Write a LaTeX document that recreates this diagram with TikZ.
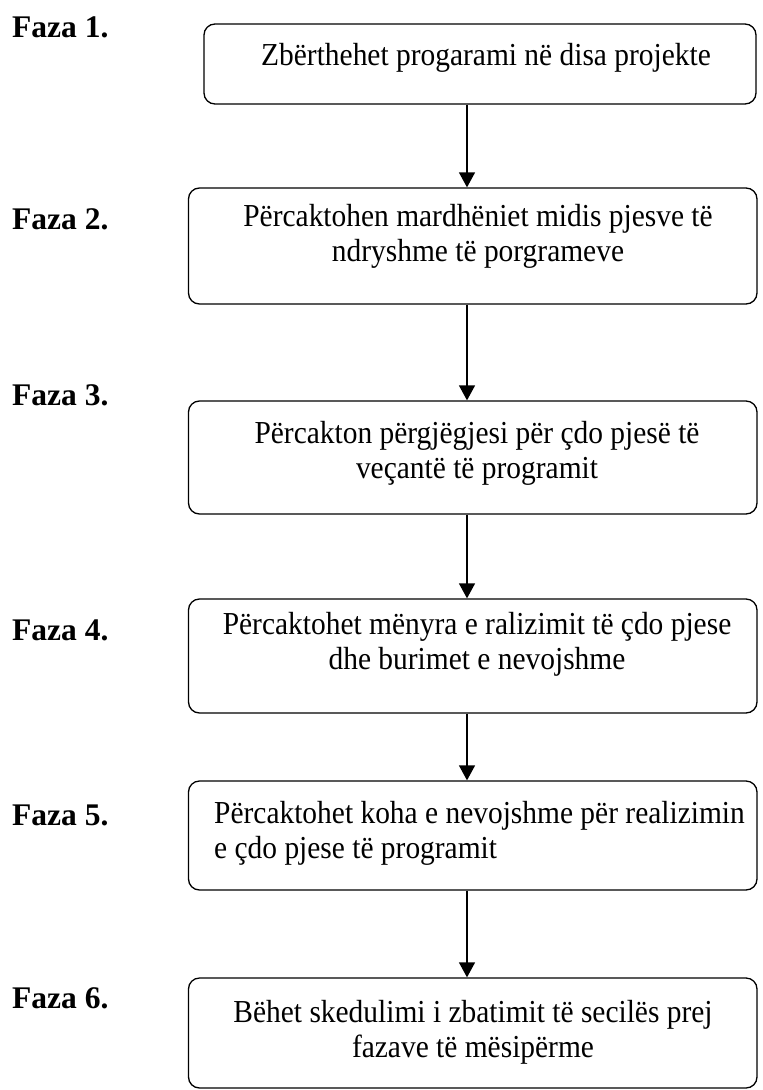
\documentclass[tikz,border=0pt]{standalone}
\usepackage{fontspec}
\setmainfont{Liberation Serif}
\newfontfamily\boxfont{Liberation Serif}[FakeStretch=0.92]
\usetikzlibrary{arrows.meta}
\begin{document}
\begin{tikzpicture}[x=1pt,y=-1pt,
  stage/.style={draw=black, line width=1.3pt, rounded corners=11pt, inner sep=0pt},
  boxtext/.style={inner sep=0pt, anchor=north, align=center, font=\boxfont\fontsize{32}{35}\selectfont},
  phase/.style={inner sep=0pt, anchor=base west, font=\fontsize{31.5}{34}\selectfont\bfseries},
  flow/.style={line width=1.3pt, -{Triangle[width=16pt,length=15pt]}}]
\useasboundingbox[fill=white] (0,0) rectangle (763,1090);

% phase frames
\node[stage, minimum width=552pt,   minimum height=80pt]  (b1) at (480,64)      {};
\node[stage, minimum width=568.5pt, minimum height=116pt] (b2) at (472.75,246)  {};
\node[stage, minimum width=568.5pt, minimum height=113pt] (b3) at (472.75,457.5){};
\node[stage, minimum width=568.5pt, minimum height=114pt] (b4) at (472.75,656)  {};
\node[stage, minimum width=568.5pt, minimum height=109pt] (b5) at (472.75,835.5){};
\node[stage, minimum width=568.5pt, minimum height=110pt] (b6) at (472.75,1033) {};

% texts inside the frames
\node[boxtext] (t1) at (486,43)  {Zbërthehet progarami në disa projekte};
\node[boxtext] (t2) at (478,204) {Përcaktohen mardhëniet midis pjesve të\\ndryshme të porgrameve};
\node[boxtext] (t3) at (477,421) {Përcakton përgjëgjesi për çdo pjesë të\\veçantë të programit};
\node[boxtext] (t4) at (477,612) {Përcaktohet mënyra e ralizimit të çdo pjese\\dhe burimet e nevojshme};
\node[boxtext, anchor=north west, align=left] (t5) at (214,801) {Përcaktohet koha e nevojshme për realizimin\\e çdo pjese të programit};
\node[boxtext] (t6) at (473,1000) {Bëhet skedulimi i zbatimit të secilës prej\\fazave të mësipërme};

% phase labels
\node[phase] (f1) at (12,37)   {Faza 1.};
\node[phase] (f2) at (12,229)  {Faza 2.};
\node[phase] (f3) at (12,405)  {Faza 3.};
\node[phase] (f4) at (12,640)  {Faza 4.};
\node[phase] (f5) at (12,825)  {Faza 5.};
\node[phase] (f6) at (12,1008) {Faza 6.};

% vertical flow between phases
\coordinate (spine) at (467,0);
\draw[flow] (spine |- b1.south) -- (spine |- b2.north);
\draw[flow] (spine |- b2.south) -- (spine |- b3.north);
\draw[flow] (spine |- b3.south) -- (spine |- b4.north);
\draw[flow] (spine |- b4.south) -- (spine |- b5.north);
\draw[flow] (spine |- b5.south) -- (spine |- b6.north);
\end{tikzpicture}
\end{document}
